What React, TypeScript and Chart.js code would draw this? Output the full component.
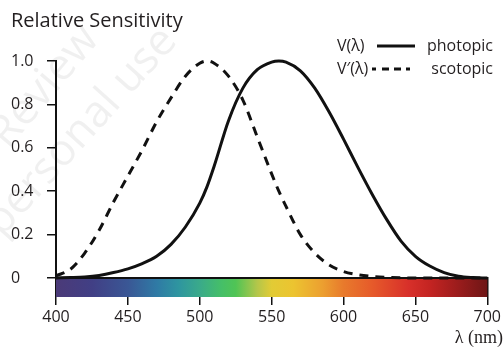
import React, { useEffect, useRef } from "react";
import { Chart, registerables } from "chart.js";

Chart.register(...registerables);

const wavelengths = [400, 410, 420, 430, 440, 450, 460, 470, 480, 490, 500, 505, 510, 520, 530, 540, 550, 555, 560, 570, 580, 590, 600, 610, 620, 630, 640, 650, 660, 670, 680, 690, 700];
const photopic = [0.0, 0.002, 0.005, 0.012, 0.025, 0.042, 0.066, 0.1, 0.155, 0.235, 0.345, 0.42, 0.515, 0.725, 0.875, 0.96, 0.995, 1.0, 0.995, 0.955, 0.875, 0.765, 0.64, 0.51, 0.385, 0.27, 0.17, 0.1, 0.055, 0.025, 0.008, 0.002, 0.0];
const scotopic = [0.01, 0.04, 0.115, 0.22, 0.35, 0.47, 0.59, 0.72, 0.83, 0.93, 0.99, 1.0, 0.99, 0.93, 0.82, 0.65, 0.48, 0.4, 0.33, 0.2, 0.115, 0.06, 0.03, 0.015, 0.007, 0.003, 0.001, 0, 0, 0, 0, 0, 0];

const xTickValues = [400, 450, 500, 550, 600, 650, 700];
const yTickValues = [0, 0.2, 0.4, 0.6, 0.8, 1.0];

const spectrumNm = [400, 425, 450, 470, 485, 500, 515, 525, 540, 550, 565, 585, 600, 620, 645, 660, 680, 700];
const spectrumColors = ["#4b3a78", "#413f85", "#3a5795", "#2f7aa5", "#2e95a0", "#3aaa8a", "#45bf68", "#50c455", "#b4c64a", "#e2cb35", "#ecc430", "#eca030", "#e87a2c", "#e65a2a", "#d8302a", "#c42422", "#9a1c1c", "#6e1616"];

const titleText = "Relative Sensitivity";
const xAxisTitle = "λ (nm)";
const legendSymbols = ["V(λ)", "V′(λ)"];
const legendNames = ["photopic", "scotopic"];
const watermarkLines = ["Review", "personal use"];

const SANS = "'Open Sans', 'Noto Sans', sans-serif";

const decorPlugin = {
  id: "decor",
  beforeDraw(chart: any) {
    const ctx = chart.ctx;
    ctx.save();
    ctx.fillStyle = "rgba(0,0,0,0.06)";
    ctx.font = `44px ${SANS}`;
    ctx.textBaseline = "alphabetic";
    ctx.translate(8, 150);
    ctx.rotate(-50 * Math.PI / 180);
    ctx.fillText(watermarkLines[0], 0, 0);
    ctx.restore();
    ctx.save();
    ctx.fillStyle = "rgba(0,0,0,0.06)";
    ctx.font = `44px ${SANS}`;
    ctx.translate(2, 238);
    ctx.rotate(-48 * Math.PI / 180);
    ctx.fillText(watermarkLines[1], 0, 0);
    ctx.restore();
  },
  beforeDatasetsDraw(chart: any) {
    const ctx = chart.ctx;
    const xs = chart.scales.x;
    const area = chart.chartArea;
    const left = xs.getPixelForValue(400);
    const right = xs.getPixelForValue(700);
    const grad = ctx.createLinearGradient(left, 0, right, 0);
    spectrumNm.forEach((nm, i) => {
      grad.addColorStop((nm - 400) / 300, spectrumColors[i]);
    });
    ctx.save();
    ctx.fillStyle = grad;
    ctx.fillRect(left, area.bottom + 1, right - left, 18);
    ctx.restore();
  },
  afterDraw(chart: any) {
    const ctx = chart.ctx;
    ctx.save();
    ctx.fillStyle = "#231f20";
    ctx.textBaseline = "middle";
    ctx.textAlign = "left";
    ctx.font = `20px ${SANS}`;
    ctx.fillText(titleText, 11, 21);

    // x axis title
    ctx.font = "18px 'Liberation Serif', 'Times New Roman', serif";
    ctx.textAlign = "right";
    ctx.fillText(xAxisTitle, 503, 338);

    // legend
    const rows = [46, 69];
    ctx.font = `16px ${SANS}`;
    rows.forEach((y, i) => {
      ctx.textAlign = "left";
      ctx.fillText(legendSymbols[i], 337, y);
      ctx.textAlign = "right";
      ctx.fillText(legendNames[i], 493, y);
    });
    ctx.strokeStyle = "#111";
    ctx.lineWidth = 3;
    ctx.beginPath();
    ctx.moveTo(377, rows[0]);
    ctx.lineTo(415, rows[0]);
    ctx.stroke();
    ctx.setLineDash([4, 6, 7, 5, 7, 5, 4, 100]);
    ctx.beginPath();
    ctx.moveTo(372, rows[1]);
    ctx.lineTo(416, rows[1]);
    ctx.stroke();
    ctx.restore();
  },
};

export default function App() {
  const ref = useRef<HTMLCanvasElement | null>(null);

  useEffect(() => {
    if (!ref.current) return;
    const toPts = (vals: number[]) => wavelengths.map((w, i) => ({ x: w, y: vals[i] }));
    const chart = new Chart(ref.current, {
      type: "line",
      data: {
        datasets: [
          {
            label: "photopic",
            data: toPts(photopic),
            borderColor: "#111",
            borderWidth: 3,
            pointRadius: 0,
            cubicInterpolationMode: "monotone",
            fill: false,
            clip: false as any,
          },
          {
            label: "scotopic",
            data: toPts(scotopic),
            borderColor: "#111",
            borderWidth: 3,
            borderDash: [9, 7],
            pointRadius: 0,
            cubicInterpolationMode: "monotone",
            fill: false,
            clip: false as any,
          },
        ],
      },
      options: {
        animation: false,
        responsive: false,
        maintainAspectRatio: false,
        layout: { padding: { left: 11, right: 13, top: 61, bottom: 0 } },
        plugins: { legend: { display: false }, tooltip: { enabled: false }, title: { display: false } },
        scales: {
          x: {
            type: "linear",
            min: 400,
            max: 700,
            afterBuildTicks: (s: any) => {
              s.ticks = xTickValues.map((v) => ({ value: v }));
            },
            afterFit: (s: any) => {
              s.height = 71;
            },
            grid: { drawOnChartArea: false, drawTicks: true, tickLength: 27, color: "#111", lineWidth: 1.5 },
            border: { display: true, color: "#111", width: 2 },
            ticks: {
              color: "#231f20",
              font: { family: SANS, size: 16 },
              padding: 3,
              maxRotation: 0,
              callback: (v: any) => String(v),
            },
          },
          y: {
            type: "linear",
            min: 0,
            max: 1.0,
            afterBuildTicks: (s: any) => {
              s.ticks = yTickValues.map((v) => ({ value: v }));
            },
            afterFit: (s: any) => {
              s.width = 45;
            },
            grid: { drawOnChartArea: false, drawTicks: true, tickLength: 9, color: "#111", lineWidth: 1.5 },
            border: { display: true, color: "#111", width: 2 },
            ticks: {
              color: "#231f20",
              font: { family: SANS, size: 16 },
              crossAlign: "far",
              callback: (v: any) => (v === 0 ? "0" : Number(v).toFixed(1)),
            },
          },
        },
      },
      plugins: [decorPlugin],
    });
    return () => chart.destroy();
  }, []);

  return (
    <div style={{ position: "absolute", left: 0, top: 0, width: 504, height: 349, background: "#fff" }}>
      <canvas ref={ref} width={504} height={349} style={{ display: "block", width: 504, height: 349 }} />
    </div>
  );
}
